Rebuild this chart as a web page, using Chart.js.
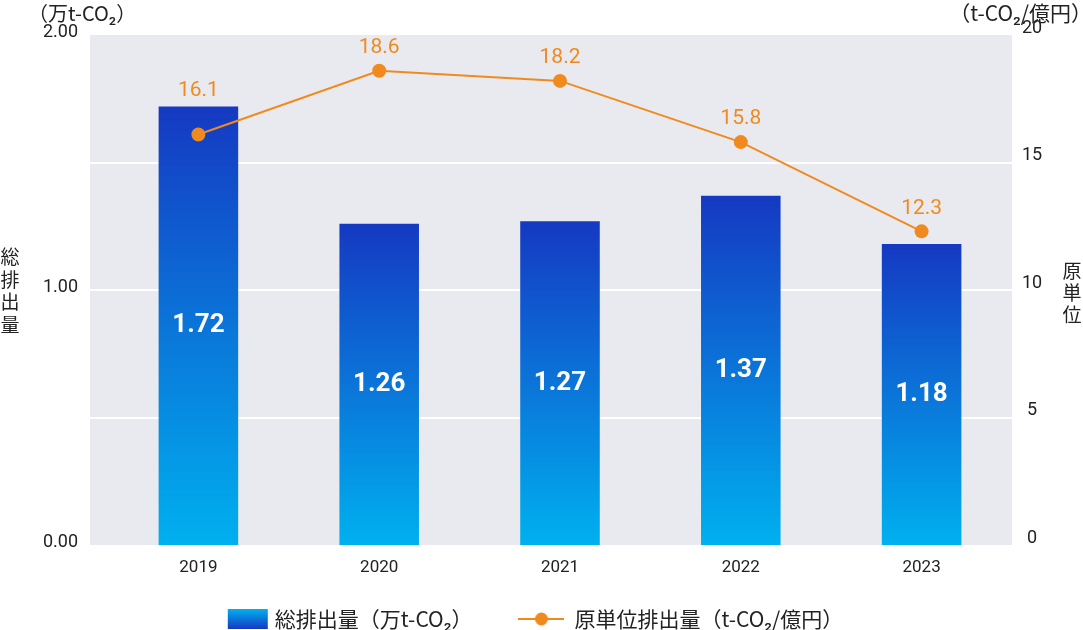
<!DOCTYPE html>
<html><head><meta charset="utf-8">
<script src="https://cdn.jsdelivr.net/npm/chart.js@4.4.1/dist/chart.umd.min.js"></script>
<style>html,body{margin:0;padding:0;background:#fff;}#wrap{width:1083px;height:630px;position:relative;}</style>
</head><body><div id="wrap"><canvas id="c" width="1083" height="630"></canvas></div>
<script>
const years = ['2019', '2020', '2021', '2022', '2023'];
const totalEmissions = [1.72, 1.26, 1.27, 1.37, 1.18];
const intensity = [16.1, 18.6, 18.2, 15.8, 12.3];
const leftTicks = [0, 1, 2];
const rightTicks = [0, 5, 10, 15, 20];
const seriesNames = ['総排出量（万t-CO₂）', '原単位排出量（t-CO₂/億円）'];
const leftUnit = '（万t-CO₂）';
const rightUnit = '（t-CO₂/億円）';
const leftTitle = ['総', '排', '出', '量'];
const rightTitle = ['原', '単', '位'];

const FONT = "Roboto, 'Noto Sans CJK JP', sans-serif";
const JFONT = "'Noto Sans CJK JP', Roboto, sans-serif";
const ORANGE = '#f18a1d';
const BAR_TOP = '#1539c2';
const BAR_BOTTOM = '#00b0ef';
const TEXT = '#222';

function barGradient(ctx) {
  const chart = ctx.chart;
  if (!chart.chartArea || ctx.type !== 'data') return BAR_TOP;
  const ys = chart.scales.y;
  const top = ys.getPixelForValue(ctx.raw);
  const bot = ys.getPixelForValue(0);
  const g = chart.ctx.createLinearGradient(0, top, 0, bot);
  g.addColorStop(0, BAR_TOP);
  g.addColorStop(1, BAR_BOTTOM);
  return g;
}

const bgPlugin = {
  id: 'bg',
  beforeDraw(chart) {
    const {ctx, chartArea: a} = chart;
    const left = a.left - 18;
    ctx.save();
    ctx.fillStyle = '#e9eaf0';
    ctx.fillRect(left, a.top, a.right - left, a.bottom - a.top);
    ctx.strokeStyle = '#ffffff';
    ctx.lineWidth = 2;
    const y1 = chart.scales.y1;
    rightTicks.forEach(v => {
      if (v === y1.min || v === y1.max) return;
      const py = Math.round(y1.getPixelForValue(v));
      ctx.beginPath(); ctx.moveTo(left, py); ctx.lineTo(a.right, py); ctx.stroke();
    });
    ctx.restore();
  }
};

const labelPlugin = {
  id: 'vals',
  afterDatasetsDraw(chart) {
    const {ctx} = chart;
    const barMeta = chart.getDatasetMeta(0);
    const lineMeta = chart.getDatasetMeta(1);
    ctx.save();
    ctx.textAlign = 'center';
    ctx.textBaseline = 'middle';
    ctx.fillStyle = '#ffffff';
    ctx.font = `bold 26px ${FONT}`;
    barMeta.data.forEach((el, i) => {
      ctx.fillText(totalEmissions[i].toFixed(2), el.x, (el.y + el.base) / 2);
    });
    ctx.fillStyle = ORANGE;
    ctx.font = `400 21px ${FONT}`;
    lineMeta.data.forEach((el, i) => {
      let y = el.y - 23;
      const b = barMeta.data[i];
      if (b && y + 12 > b.y) y = Math.min(y, b.y - 16);
      ctx.fillText(intensity[i].toFixed(1), el.x, y);
    });
    ctx.restore();
  }
};

const titlePlugin = {
  id: 'titles',
  afterDraw(chart) {
    const {ctx, chartArea: a} = chart;
    ctx.save();
    ctx.fillStyle = TEXT;
    ctx.font = `400 20px ${JFONT}`;
    ctx.textBaseline = 'middle';
    ctx.textAlign = 'left';
    ctx.fillText(leftUnit, 28, 13);
    ctx.font = `400 21px ${JFONT}`;
    ctx.textAlign = 'right';
    ctx.fillText(rightUnit, chart.width + 9, 13);
    ctx.font = `400 19px ${JFONT}`;
    ctx.textAlign = 'center';
    const midY = (a.top + a.bottom) / 2;
    leftTitle.forEach((ch, i) => {
      ctx.fillText(ch, 10, midY + 1 + (i - (leftTitle.length - 1) / 2) * 22.5);
    });
    rightTitle.forEach((ch, i) => {
      ctx.fillText(ch, chart.width - 11, midY + 3 + (i - (rightTitle.length - 1) / 2) * 22);
    });
    ctx.restore();
  }
};

function lineIcon() {
  const c = document.createElement('canvas');
  c.width = 46; c.height = 16;
  const g = c.getContext('2d');
  g.strokeStyle = ORANGE; g.lineWidth = 2;
  g.beginPath(); g.moveTo(0, 8); g.lineTo(46, 8); g.stroke();
  g.fillStyle = ORANGE;
  g.beginPath(); g.arc(23, 8, 6.5, 0, Math.PI * 2); g.fill();
  return c;
}

const legendPlugin = {
  id: 'customLegend',
  afterDraw(chart) {
    const {ctx} = chart;
    const ds = chart.data.datasets;
    ctx.save();
    ctx.font = `400 21px ${JFONT}`;
    ctx.textBaseline = 'middle';
    ctx.textAlign = 'left';
    const y = chart.height - 11;
    const swW = 40, swH = 20, iconW = 46, gap1 = 7, gap2 = 10, between = 46;
    const t1 = ctx.measureText(ds[0].label).width;
    const t2 = ctx.measureText(ds[1].label).width;
    const total = swW + gap1 + t1 + between + iconW + gap2 + t2;
    let x = chart.width / 2 - 6 - total / 2;
    const g = ctx.createLinearGradient(0, y - swH / 2, 0, y + swH / 2);
    g.addColorStop(0, BAR_BOTTOM);
    g.addColorStop(1, BAR_TOP);
    ctx.fillStyle = g;
    ctx.fillRect(x, y - swH / 2, swW, swH);
    x += swW + gap1;
    ctx.fillStyle = TEXT;
    ctx.fillText(ds[0].label, x, y);
    x += t1 + between;
    ctx.drawImage(lineIcon(), x, y - 8);
    x += iconW + gap2;
    ctx.fillStyle = TEXT;
    ctx.fillText(ds[1].label, x, y);
    ctx.restore();
  }
};

new Chart(document.getElementById('c'), {
  data: {
    labels: years,
    datasets: [
      {
        type: 'bar',
        label: seriesNames[0],
        data: totalEmissions,
        yAxisID: 'y',
        backgroundColor: barGradient,
        barPercentage: 0.44,
        categoryPercentage: 1,
        order: 2
      },
      {
        type: 'line',
        label: seriesNames[1],
        data: intensity,
        yAxisID: 'y1',
        borderColor: ORANGE,
        borderWidth: 2,
        pointRadius: 7,
        pointHoverRadius: 7,
        pointBackgroundColor: ORANGE,
        pointBorderWidth: 0,
        tension: 0,
        order: 1
      }
    ]
  },
  options: {
    responsive: false,
    animation: false,
    devicePixelRatio: 1,
    layout: {padding: {top: 35, bottom: 45, left: 0, right: 0}},
    plugins: {legend: {display: false}, tooltip: {enabled: false}},
    scales: {
      x: {
        type: 'category',
        offset: true,
        grid: {display: false},
        border: {display: false},
        ticks: {font: {family: FONT, size: 17}, color: TEXT, padding: 5},
        afterFit(s) { s.height = 40; }
      },
      y: {
        position: 'left',
        min: 0, max: 2,
        grid: {display: false, drawTicks: true, tickLength: 26},
        border: {display: false},
        afterBuildTicks(s) { s.ticks = leftTicks.map(v => ({value: v})); },
        ticks: {font: {family: FONT, size: 18}, color: TEXT, padding: 4, labelOffset: -3,
          callback: v => Number(v).toFixed(2)},
        afterFit(s) { s.width = 108; }
      },
      y1: {
        position: 'right',
        min: 0, max: 20,
        grid: {display: false, drawTicks: true, tickLength: 8},
        border: {display: false},
        afterBuildTicks(s) { s.ticks = rightTicks.map(v => ({value: v})); },
        ticks: {font: {family: FONT, size: 18}, color: TEXT, padding: 2, crossAlign: 'center', labelOffset: -7},
        afterFit(s) { s.width = 71; }
      }
    }
  },
  plugins: [bgPlugin, labelPlugin, titlePlugin, legendPlugin]
});
</script>
</body></html>
